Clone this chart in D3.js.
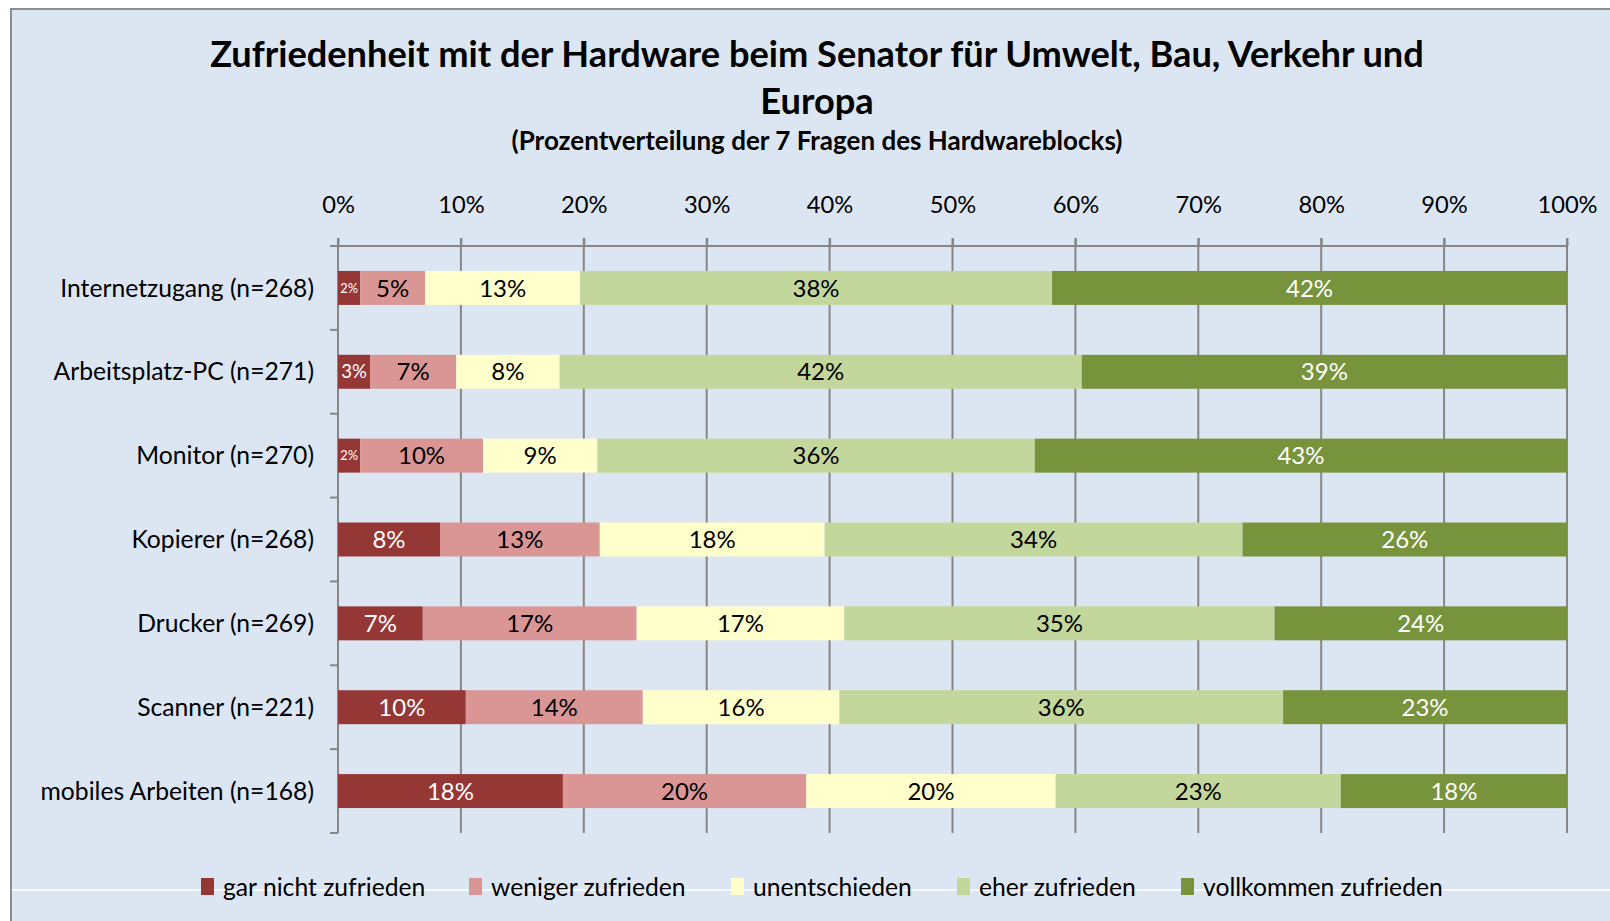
<!DOCTYPE html>
<html>
<head>
<meta charset="utf-8">
<script src="https://cdn.jsdelivr.net/npm/d3@7"></script>
<style>
  body { margin: 0; background: #fff; }
  svg { display: block; font-family: Lato, "Open Sans", sans-serif; }
</style>
</head>
<body>
<svg id="chart" width="1610" height="921"></svg>
<script>
// data (percent per answer, per question)
const categories = ["Internetzugang (n=268)", "Arbeitsplatz-PC (n=271)", "Monitor (n=270)",
  "Kopierer (n=268)", "Drucker (n=269)", "Scanner (n=221)", "mobiles Arbeiten (n=168)"];
const answers = ["gar nicht zufrieden", "weniger zufrieden", "unentschieden", "eher zufrieden", "vollkommen zufrieden"];
const garNicht   = [1.8, 2.6, 1.8, 8.3, 6.9, 10.4, 18.3];
const weniger    = [5.3, 7.0, 10.0, 13.0, 17.4, 14.4, 19.8];
const unentsch   = [12.6, 8.4, 9.3, 18.3, 16.9, 16.0, 20.3];
const eher       = [38.4, 42.4, 35.6, 34.0, 35.0, 36.1, 23.2];
const vollkommen = [41.9, 39.4, 43.3, 26.4, 23.8, 23.1, 18.4];
const tickValues = [0, .1, .2, .3, .4, .5, .6, .7, .8, .9, 1];

const colors = ["#953735", "#D99694", "#FFFFCC", "#C3D69B", "#77933C"];
const labelColors = ["#fff", "#000", "#000", "#000", "#fff"];

const series = [garNicht, weniger, unentsch, eher, vollkommen];
const rows = categories.map((c, i) => {
  const r = { cat: c };
  answers.forEach((a, j) => r[a] = series[j][i]);
  return r;
});

const svg = d3.select("#chart");

// chart area
svg.append("rect").attr("x", 11).attr("y", 9).attr("width", 1610).attr("height", 930)
  .attr("fill", "#DCE6F2").attr("stroke", "#8c8c8c").attr("stroke-width", 2);
svg.append("line").attr("x1", 12).attr("x2", 1610).attr("y1", 890).attr("y2", 890)
  .attr("stroke", "#fff").attr("stroke-width", 1.5);

// titles
svg.append("text").attr("x", 817).attr("y", 67).attr("text-anchor", "middle")
  .style("font-size", "36.2px").style("font-weight", "bold")
  .text("Zufriedenheit mit der Hardware beim Senator für Umwelt, Bau, Verkehr und");
svg.append("text").attr("x", 817).attr("y", 114).attr("text-anchor", "middle")
  .style("font-size", "36.2px").style("font-weight", "bold").text("Europa");
svg.append("text").attr("x", 817).attr("y", 150).attr("text-anchor", "middle")
  .style("font-size", "26px").style("font-weight", "bold")
  .text("(Prozentverteilung der 7 Fragen des Hardwareblocks)");

const x = d3.scaleLinear().domain([0, 1]).range([338, 1567]);
const y = d3.scaleBand().domain(categories).range([246, 833])
  .paddingInner(0.595).paddingOuter(0.2975);

const plotTop = y.range()[0], plotBottom = y.range()[1];

// gridlines
svg.append("g").selectAll("line").data(tickValues.slice(1)).join("line")
  .attr("x1", d => x(d)).attr("x2", d => x(d))
  .attr("y1", plotTop - 8).attr("y2", plotBottom)
  .attr("stroke", "#868686").attr("stroke-width", 2);

// top axis
const xAxis = svg.append("g").attr("transform", `translate(0,${plotTop})`)
  .call(d3.axisTop(x).tickValues(tickValues).tickFormat(d3.format(".0%")).tickSize(8).tickPadding(25));
xAxis.select(".domain").attr("stroke", "#868686").attr("stroke-width", 2)
  .attr("d", `M${x(0)},0H${x(1)}`);
xAxis.selectAll(".tick line").attr("stroke", "#868686").attr("stroke-width", 2);
xAxis.selectAll(".tick text").attr("fill", "#000").style("font-size", "23.7px")
  .style("font-family", "Lato, sans-serif");

// left axis line with ticks at band borders
const bounds = d3.range(categories.length + 1).map(i => plotTop + i * y.step());
svg.append("line").attr("x1", x(0)).attr("x2", x(0)).attr("y1", plotTop - 8).attr("y2", plotBottom)
  .attr("stroke", "#868686").attr("stroke-width", 2);
svg.append("g").selectAll("line").data(bounds).join("line")
  .attr("x1", x(0) - 8).attr("x2", x(0)).attr("y1", d => d).attr("y2", d => d)
  .attr("stroke", "#868686").attr("stroke-width", 2);

// category labels
svg.append("g").selectAll("text").data(categories).join("text")
  .attr("x", 314).attr("y", d => y(d) + y.bandwidth() / 2).attr("dy", "0.35em")
  .attr("text-anchor", "end").style("font-size", "24.7px").text(d => d);

// stacked bars
const stack = d3.stack().keys(answers).offset(d3.stackOffsetExpand);
const layers = stack(rows);

const g = svg.append("g").selectAll("g").data(layers).join("g")
  .attr("fill", (d, i) => colors[i]);
g.selectAll("rect").data(d => d).join("rect")
  .attr("x", d => x(d[0])).attr("width", d => x(d[1]) - x(d[0]))
  .attr("y", d => y(d.data.cat)).attr("height", y.bandwidth());

// data labels
layers.forEach((layer, i) => {
  svg.append("g").selectAll("text").data(layer).join("text")
    .attr("x", d => (x(d[0]) + x(d[1])) / 2)
    .attr("y", d => y(d.data.cat) + y.bandwidth() / 2).attr("dy", "0.36em")
    .attr("text-anchor", "middle").attr("fill", labelColors[i])
    .style("font-size", d => {
      const w = x(d[1]) - x(d[0]);
      return (w < 40 ? Math.min(24, w * 0.58) : 24) + "px";
    })
    .text(d => Math.round(d.data[layer.key]) + "%");
});

// legend
const legendX = [201, 469, 731, 957, 1181];
const legend = svg.append("g").selectAll("g").data(answers).join("g")
  .attr("transform", (d, i) => `translate(${legendX[i]},878)`);
legend.append("rect").attr("width", 13).attr("height", 17).attr("fill", (d, i) => colors[i]);
legend.append("text").attr("x", 22).attr("y", 9).attr("dy", "0.36em")
  .style("font-size", "24.7px").text(d => d);
</script>
</body>
</html>
